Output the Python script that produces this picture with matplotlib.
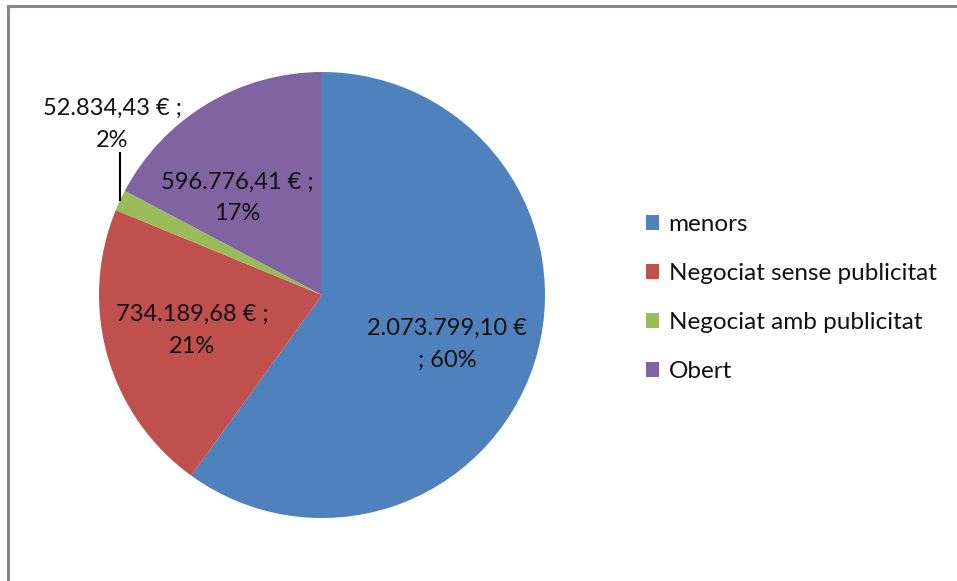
import matplotlib
matplotlib.use("Agg")
import matplotlib.pyplot as plt
from matplotlib.lines import Line2D
import numpy as np

plt.rcParams['font.family'] = ['Lato', 'DejaVu Sans']

categories = ["menors", "Negociat sense publicitat", "Negociat amb publicitat", "Obert"]
values = [2073799.10, 734189.68, 52834.43, 596776.41]
value_labels = ["2.073.799,10 €", "734.189,68 €", "52.834,43 €", "596.776,41 €"]
pct_labels = ["60%", "21%", "2%", "17%"]
colors = ["#4F81BD", "#C0504D", "#9BBB59", "#8064A2"]

W, H = 957, 581
fig = plt.figure(figsize=(W / 100, H / 100), dpi=100)

cx, cy, r = 322, 295, 223
ax = fig.add_axes([(cx - r) / W, (H - cy - r) / H, 2 * r / W, 2 * r / H])
wedges, _ = ax.pie(values, colors=colors, startangle=90, counterclock=False,
                   radius=1, wedgeprops=dict(linewidth=0))
ax.set_xlim(-1, 1)
ax.set_ylim(-1, 1)
ax.axis('off')

fs = 17
txtc = "#111111"
ls = 1.63
# inside labels (data coords relative to unit radius)
ax.text(0.56, -0.22, value_labels[0] + "\n; " + pct_labels[0], ha='center', va='center',
        fontsize=fs, color=txtc, linespacing=ls)
ax.text(-0.583, -0.16, value_labels[1] + " ;\n" + pct_labels[1], ha='center', va='center',
        fontsize=fs, color=txtc, linespacing=ls)
ax.text(-0.381, 0.435, value_labels[3] + " ;\n" + pct_labels[3], ha='center', va='center',
        fontsize=fs, color=txtc, linespacing=ls)

# green slice: outside label with leader line
w = wedges[2]
mid = np.deg2rad((w.theta1 + w.theta2) / 2)
ex, ey = np.cos(mid), np.sin(mid)
ax.plot([ex, ex], [ey, ey + 0.213], color='black', lw=1.5, clip_on=False)
ax.text(ex - 0.035, ey + 0.34, value_labels[2] + " ;\n" + pct_labels[2], ha='center', va='center',
        fontsize=fs, color=txtc, linespacing=ls, clip_on=False)

leg = fig.legend(wedges, categories, loc='upper left', bbox_to_anchor=(646 / W, 1 - 214 / H),
                 frameon=False, fontsize=17.5, handlelength=0.55, handleheight=0.55,
                 handletextpad=0.38, labelspacing=1.15, borderpad=0, borderaxespad=0)
for t in leg.get_texts():
    t.set_color(txtc)

# outer frame (top and left visible)
fig.add_artist(Line2D([8 / W, 1], [1 - 6 / H, 1 - 6 / H], color="#868686", lw=2.2))
fig.add_artist(Line2D([8 / W, 8 / W], [0, 1 - 6 / H], color="#868686", lw=2.2))

fig.savefig("out.png", dpi=100)
